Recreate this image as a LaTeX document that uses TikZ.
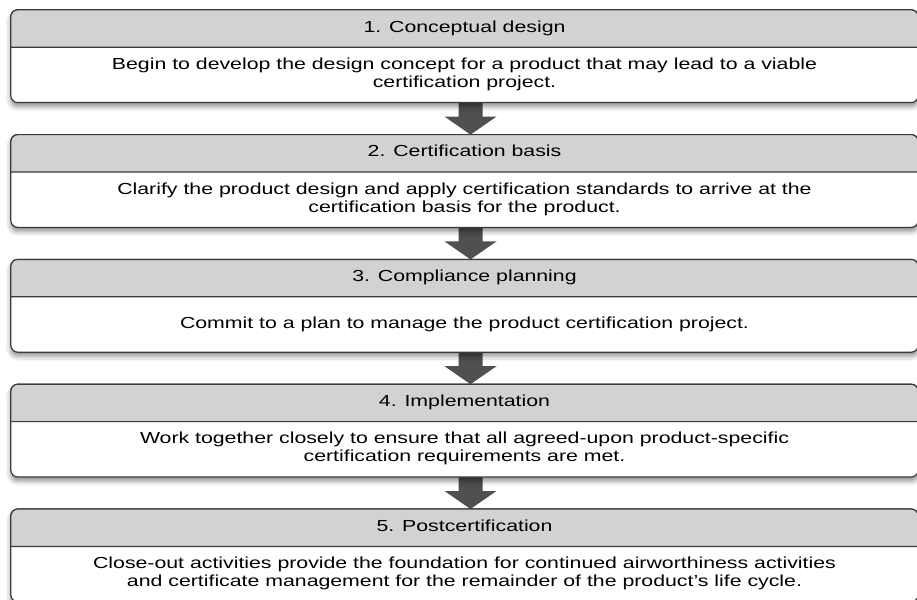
\documentclass[tikz,border=0pt]{standalone}
\usepackage{fontspec}
\setmainfont{Liberation Sans}
\usepackage{graphicx}
\usetikzlibrary{positioning}
\usetikzlibrary{backgrounds}
\usetikzlibrary{shadows.blur}
\definecolor{framegray}{HTML}{3A3A3A}
\definecolor{headgray}{HTML}{D1D2D4}
\definecolor{arrowgray}{HTML}{505050}
\newcommand{\wide}[1]{\scalebox{1.33}[1]{\begin{tabular}{@{}c@{}}#1\end{tabular}}}
\tikzset{
  every node/.style={font=\fontsize{16}{18}\selectfont},
  headbox/.style={minimum width=907pt, minimum height=37pt, inner sep=0},
  bodybox/.style={minimum width=907pt, minimum height=55pt, inner sep=0},
  stageframe/.style={draw=framegray, line width=1.2pt, fill=white, rounded corners=7pt,
    blur shadow={shadow xshift=0pt, shadow yshift=-4pt, shadow blur radius=5pt, shadow opacity=45}},
  headfill/.style={draw=framegray, line width=1.2pt, fill=headgray},
  stagearrow/.style={fill=arrowgray}
}

\begin{document}
\begin{tikzpicture}[x=1pt, y=-1pt]
  \useasboundingbox (0,0) rectangle (917,599);
  % stages
  \node[headbox] (head1) at (464.5,28.5) {\wide{1. Conceptual design}};
  \node[bodybox, below=0pt of head1] (body1) {\wide{Begin to develop the design concept for a product that may lead to a viable\\certification project.}};
  \node[headbox, below=32pt of body1] (head2) {\wide{2. Certification basis}};
  \node[bodybox, below=0pt of head2] (body2) {\wide{Clarify the product design and apply certification standards to arrive at the\\certification basis for the product.}};
  \node[headbox, below=32pt of body2] (head3) {\wide{3. Compliance planning}};
  \node[bodybox, below=0pt of head3] (body3) {\wide{Commit to a plan to manage the product certification project.}};
  \node[headbox, below=32pt of body3] (head4) {\wide{4. Implementation}};
  \node[bodybox, below=0pt of head4] (body4) {\wide{Work together closely to ensure that all agreed-upon product-specific\\certification requirements are met.}};
  \node[headbox, below=32pt of body4] (head5) {\wide{5. Postcertification}};
  \node[bodybox, below=0pt of head5] (body5) {\wide{Close-out activities provide the foundation for continued airworthiness activities\\and certificate management for the remainder of the product's life cycle.}};

  \begin{scope}[on background layer]
    % block arrows
    \foreach \i/\j in {1/2,2/3,3/4,4/5}
      \fill[stagearrow] ([xshift=-6pt]body\i.south) -- ([xshift=-6pt,yshift=18pt]head\j.north)
        -- ([xshift=-20pt,yshift=18pt]head\j.north) -- ([xshift=6pt]head\j.north)
        -- ([xshift=32pt,yshift=18pt]head\j.north) -- ([xshift=18pt,yshift=18pt]head\j.north)
        -- ([xshift=18pt]body\i.south) -- cycle;
    % frames
    \foreach \i in {1,...,5}{
      \draw[stageframe] (head\i.north west) rectangle (body\i.south east);
      \filldraw[headfill] (head\i.south west) [rounded corners=7pt] -- (head\i.north west)
        -- (head\i.north east) [sharp corners] -- (head\i.south east) -- cycle;
    }
  \end{scope}
\end{tikzpicture}
\end{document}
